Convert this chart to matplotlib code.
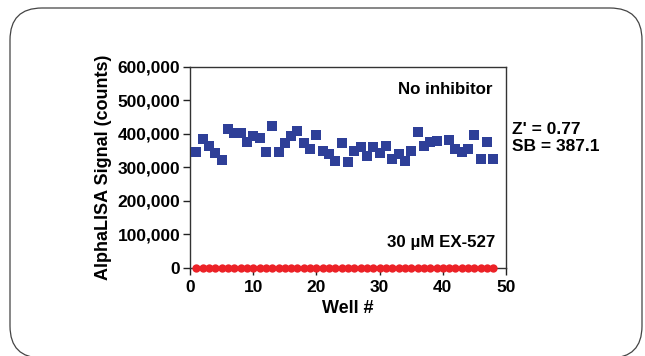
import matplotlib
matplotlib.use("Agg")
import matplotlib.pyplot as plt
from matplotlib.patches import FancyBboxPatch

# AlphaLISA signal per well (well 40 has no visible point in the control series)
wells_no_inh = [1, 2, 3, 4, 5, 6, 7, 8, 9, 10, 11, 12, 13, 14, 15, 16, 17, 18, 19, 20,
                21, 22, 23, 24, 25, 26, 27, 28, 29, 30, 31, 32, 33, 34, 35, 36, 37, 38, 39,
                41, 42, 43, 44, 45, 46, 47, 48]
signal_no_inh = [347000, 384000, 363000, 343000, 322000, 414000, 402000, 402000, 377000, 394000,
                 387000, 345000, 423000, 347000, 372000, 394000, 408000, 372000, 355000, 398000,
                 349000, 341000, 318000, 374000, 315000, 349000, 360000, 335000, 360000, 343000,
                 364000, 326000, 339000, 320000, 349000, 405000, 365000, 377000, 379000,
                 382000, 355000, 347000, 356000, 398000, 324000, 377000, 326000]

wells_ex527 = list(range(1, 49))
signal_ex527 = [900] * 48

x_ticks = [0, 10, 20, 30, 40, 50]
y_ticks = [0, 100000, 200000, 300000, 400000, 500000, 600000]

plt.rcParams['font.family'] = ['Liberation Sans', 'DejaVu Sans']
plt.rcParams['font.weight'] = 'bold'

fig = plt.figure(figsize=(6.45, 3.56), dpi=100)

# rounded frame around the figure (inches)
frame = FancyBboxPatch((0.10, -0.02), 6.32, 3.50,
                       boxstyle="round,pad=0,rounding_size=0.32",
                       transform=fig.dpi_scale_trans, fill=False,
                       edgecolor='#444444', linewidth=0.9)
fig.patches.append(frame)

ax = fig.add_axes([0.2946, 0.2472, 0.49, 0.5646])

ax.scatter(wells_no_inh, signal_no_inh, marker='s', s=42, color='#2e3f98',
           linewidths=0, zorder=3, clip_on=False)
ax.scatter(wells_ex527, signal_ex527, marker='o', s=36, color='#ec2227',
           linewidths=0, zorder=3, clip_on=False)

ax.set_xlim(0, 50)
ax.set_ylim(0, 600000)
ax.set_xticks(x_ticks)
ax.set_yticks(y_ticks)
ax.set_yticklabels([f"{v:,}" for v in y_ticks])
ax.tick_params(labelsize=12.5, length=5, width=1, color='#222222')
ax.tick_params(axis='y', pad=2)
ax.tick_params(axis='x', pad=4)

for sp in ax.spines.values():
    sp.set_linewidth(1.0)
    sp.set_color('#333333')

ax.set_xlabel('Well #', fontsize=13, fontweight='bold', labelpad=3)
ax.set_ylabel('AlphaLISA Signal (counts)', fontsize=13, fontweight='bold', labelpad=4)

ax.text(47.8, 534000, 'No inhibitor', ha='right', va='center', fontsize=12.2, fontweight='bold')
ax.text(48.3, 75000, '30 µM EX-527', ha='right', va='center', fontsize=12.2, fontweight='bold')
ax.text(1.02, 0.647, "Z' = 0.77\nSB = 387.1", transform=ax.transAxes, ha='left', va='center',
        fontsize=12.5, fontweight='bold', linespacing=1.15)

fig.savefig('out.png', dpi=100)
